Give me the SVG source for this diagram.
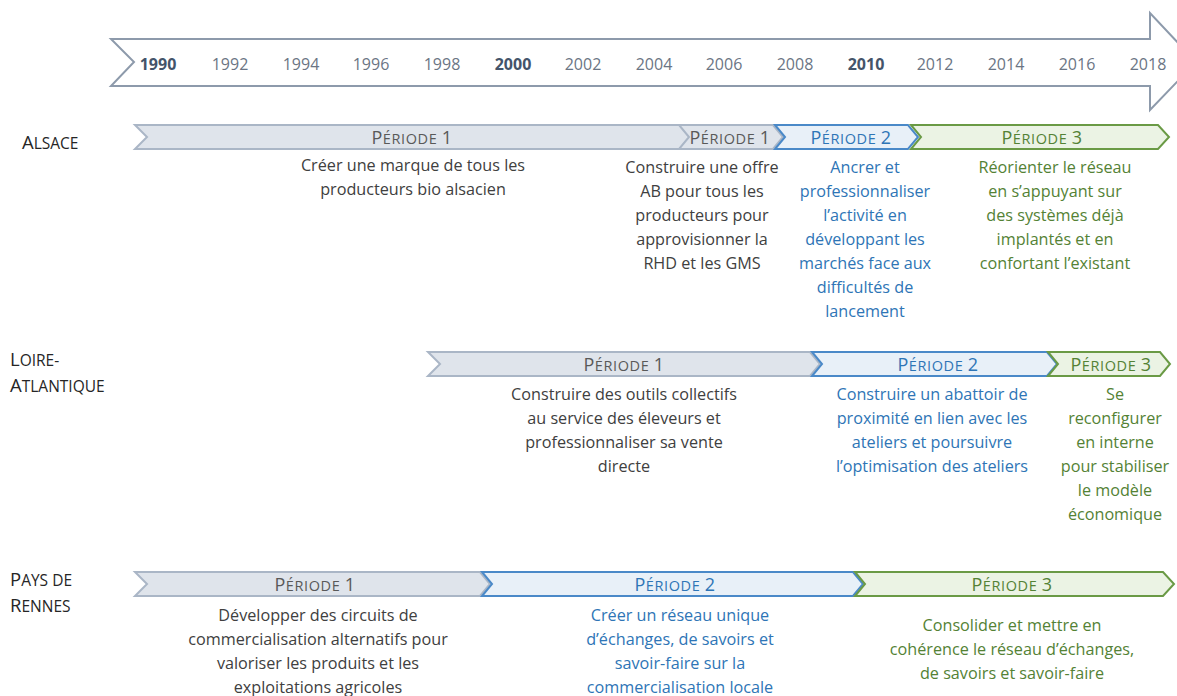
<svg xmlns="http://www.w3.org/2000/svg" width="1177" height="696" viewBox="0 0 1177 696">
<style>
text{font-family:"Open Sans","Liberation Sans",sans-serif}
.yr{font-size:16px;fill:#6b7584;text-anchor:middle}
.yrb{font-size:16px;fill:#44546a;font-weight:bold;text-anchor:middle}
.row{font-size:15.5px;fill:#262626}
.row .c{font-size:18.5px}
.lbl{font-size:14.5px;text-anchor:middle;letter-spacing:0.6px}
.lbl .c{font-size:18px}
.d{font-size:16.2px;text-anchor:middle}
.g{fill:#404040}.b{fill:#2e75b6}.n{fill:#548235}
.lg{fill:#595959}
.bg{fill:#dfe4eb;stroke:#aab6c6;stroke-width:2}
.bb{fill:#e8f0f8;stroke:#4a89c8;stroke-width:2}
.bn{fill:#ebf3e4;stroke:#6a9a45;stroke-width:2}
</style>
<g id="timeline">
<path d="M111,39 L1150,39 L1150,13 L1196,62 L1150,110 L1150,86 L111,86 L134,62 Z" fill="#fff" stroke="#8d9aab" stroke-width="2"/>
<text class="yrb" x="158" y="70">1990</text>
<text class="yr" x="230" y="70">1992</text>
<text class="yr" x="301" y="70">1994</text>
<text class="yr" x="371" y="70">1996</text>
<text class="yr" x="442" y="70">1998</text>
<text class="yrb" x="513" y="70">2000</text>
<text class="yr" x="583" y="70">2002</text>
<text class="yr" x="654" y="70">2004</text>
<text class="yr" x="724" y="70">2006</text>
<text class="yr" x="795" y="70">2008</text>
<text class="yrb" x="866" y="70">2010</text>
<text class="yr" x="935" y="70">2012</text>
<text class="yr" x="1006" y="70">2014</text>
<text class="yr" x="1077" y="70">2016</text>
<text class="yr" x="1148" y="70">2018</text>
</g>
<g id="alsace">
<text class="row" x="22" y="149"><tspan class="c">A</tspan>LSACE</text>
</g>
<g id="alsace-p1">
<path class="bg" d="M135,125 L680,125 L690,137 L680,149 L135,149 L147,137 Z"/>
<text class="lbl lg" x="412" y="144"><tspan class="c">P</tspan>ÉRIODE <tspan class="c">1</tspan></text>
<text class="d g" x="413" y="171">Créer une marque de tous les</text>
<text class="d g" x="413" y="195">producteurs bio alsacien</text>
</g>
<g id="alsace-p1b">
<path class="bg" d="M679,125 L773,125 L783,137 L773,149 L679,149 L689,137 Z"/>
<text class="lbl lg" x="730" y="144"><tspan class="c">P</tspan>ÉRIODE <tspan class="c">1</tspan></text>
<text class="d g" x="702" y="173">Construire une offre</text>
<text class="d g" x="702" y="197">AB pour tous les</text>
<text class="d g" x="702" y="221">producteurs pour</text>
<text class="d g" x="702" y="245">approvisionner la</text>
<text class="d g" x="702" y="269">RHD et les GMS</text>
</g>
<g id="alsace-p2">
<path class="bb" d="M775,125 L908,125 L918,137 L908,149 L775,149 L785,137 Z"/>
<text class="lbl b" x="851" y="144"><tspan class="c">P</tspan>ÉRIODE <tspan class="c">2</tspan></text>
<text class="d b" x="865" y="173">Ancrer et</text>
<text class="d b" x="865" y="197">professionnaliser</text>
<text class="d b" x="865" y="221">l’activité en</text>
<text class="d b" x="865" y="245">développant les</text>
<text class="d b" x="865" y="269">marchés face aux</text>
<text class="d b" x="865" y="293">difficultés de</text>
<text class="d b" x="865" y="317">lancement</text>
</g>
<g id="alsace-p3">
<path class="bn" d="M911,125 L1158,125 L1169,137 L1158,149 L911,149 L921,137 Z"/>
<text class="lbl n" x="1042" y="144"><tspan class="c">P</tspan>ÉRIODE <tspan class="c">3</tspan></text>
<text class="d n" x="1055" y="173">Réorienter le réseau</text>
<text class="d n" x="1055" y="197">en s’appuyant sur</text>
<text class="d n" x="1055" y="221">des systèmes déjà</text>
<text class="d n" x="1055" y="245">implantés et en</text>
<text class="d n" x="1055" y="269">confortant l’existant</text>
</g>
<g id="loire">
<text class="row" x="10" y="366"><tspan class="c">L</tspan>OIRE-</text>
<text class="row" x="10" y="392"><tspan class="c">A</tspan>TLANTIQUE</text>
</g>
<g id="loire-p1">
<path class="bg" d="M428,352 L810,352 L820,364 L810,376 L428,376 L440,364 Z"/>
<text class="lbl lg" x="624" y="371"><tspan class="c">P</tspan>ÉRIODE <tspan class="c">1</tspan></text>
<text class="d g" x="624" y="400">Construire des outils collectifs</text>
<text class="d g" x="624" y="424">au service des éleveurs et</text>
<text class="d g" x="624" y="448">professionnaliser sa vente</text>
<text class="d g" x="624" y="472">directe</text>
</g>
<g id="loire-p2">
<path class="bb" d="M812,352 L1047,352 L1057,364 L1047,376 L812,376 L822,364 Z"/>
<text class="lbl b" x="938" y="371"><tspan class="c">P</tspan>ÉRIODE <tspan class="c">2</tspan></text>
<text class="d b" x="932" y="400">Construire un abattoir de</text>
<text class="d b" x="932" y="424">proximité en lien avec les</text>
<text class="d b" x="932" y="448">ateliers et poursuivre</text>
<text class="d b" x="932" y="472">l’optimisation des ateliers</text>
</g>
<g id="loire-p3">
<path class="bn" d="M1048,352 L1160,352 L1170,364 L1160,376 L1048,376 L1058,364 Z"/>
<text class="lbl n" x="1111" y="371"><tspan class="c">P</tspan>ÉRIODE <tspan class="c">3</tspan></text>
<text class="d n" x="1115" y="400">Se</text>
<text class="d n" x="1115" y="424">reconfigurer</text>
<text class="d n" x="1115" y="448">en interne</text>
<text class="d n" x="1115" y="472">pour stabiliser</text>
<text class="d n" x="1115" y="496">le modèle</text>
<text class="d n" x="1115" y="520">économique</text>
</g>
<g id="rennes">
<text class="row" x="10" y="586"><tspan class="c">P</tspan>AYS DE</text>
<text class="row" x="10" y="612"><tspan class="c">R</tspan>ENNES</text>
</g>
<g id="rennes-p1">
<path class="bg" d="M135,572 L480,572 L490,584 L480,596 L135,596 L147,584 Z"/>
<text class="lbl lg" x="315" y="591"><tspan class="c">P</tspan>ÉRIODE <tspan class="c">1</tspan></text>
<text class="d g" x="318" y="621">Développer des circuits de</text>
<text class="d g" x="318" y="645">commercialisation alternatifs pour</text>
<text class="d g" x="318" y="669">valoriser les produits et les</text>
<text class="d g" x="318" y="693">exploitations agricoles</text>
</g>
<g id="rennes-p2">
<path class="bb" d="M482,572 L853,572 L863,584 L853,596 L482,596 L492,584 Z"/>
<text class="lbl b" x="675" y="591"><tspan class="c">P</tspan>ÉRIODE <tspan class="c">2</tspan></text>
<text class="d b" x="680" y="621">Créer un réseau unique</text>
<text class="d b" x="680" y="645">d’échanges, de savoirs et</text>
<text class="d b" x="680" y="669">savoir-faire sur la</text>
<text class="d b" x="680" y="693">commercialisation locale</text>
</g>
<g id="rennes-p3">
<path class="bn" d="M855,572 L1163,572 L1174,584 L1163,596 L855,596 L865,584 Z"/>
<text class="lbl n" x="1012" y="591"><tspan class="c">P</tspan>ÉRIODE <tspan class="c">3</tspan></text>
<text class="d n" x="1012" y="631">Consolider et mettre en</text>
<text class="d n" x="1012" y="655">cohérence le réseau d’échanges,</text>
<text class="d n" x="1012" y="679">de savoirs et savoir-faire</text>
</g>
</svg>
